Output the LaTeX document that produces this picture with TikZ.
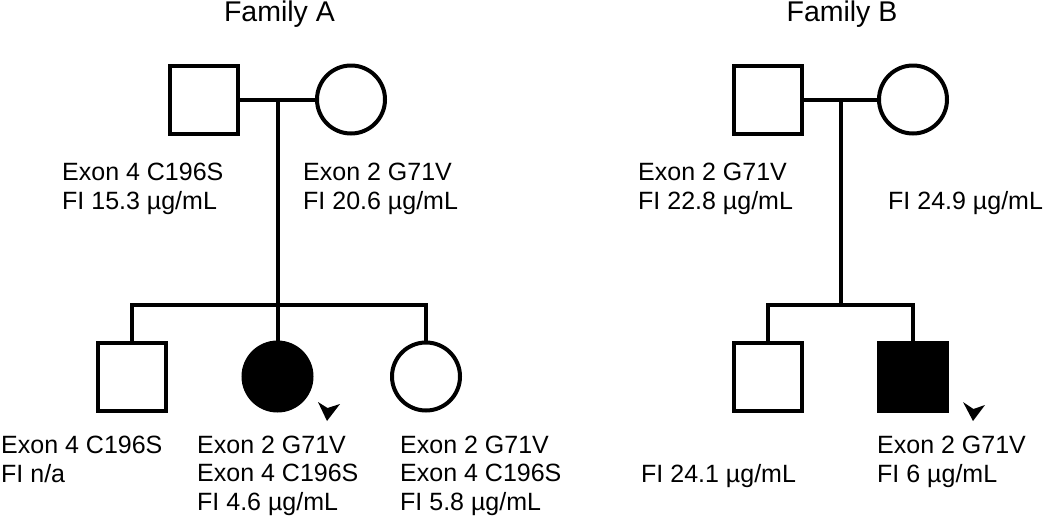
\documentclass[tikz,border=0pt]{standalone}
\usepackage{fontspec}
\setmainfont{Liberation Sans}
\begin{document}
\begin{tikzpicture}[x=1pt,y=-1pt,
  male/.style={draw, rectangle, line width=4pt, minimum size=68pt, inner sep=0pt},
  female/.style={draw, circle, line width=4pt, minimum size=68pt, inner sep=0pt},
  affected/.style={fill=black},
  conn/.style={line width=4pt},
  lbl/.style={anchor=base west, align=left, inner sep=0pt, font=\fontsize{25}{28.5}\selectfont},
  ttl/.style={anchor=base, inner sep=0pt, font=\fontsize{28.5}{32}\selectfont},
  proband/.style={fill=black, draw=none}]
\useasboundingbox (0,0) rectangle (1050,520);

% ---------- Family A ----------
\node[ttl] (tA) at (279.5,21) {Family A};
\node[male] (fA) at (203.5,99.5) {};
\node[female] (moA) at (351,99.5) {};
\node[male] (cA1) at (131.5,376.5) {};
\node[female, affected] (cA2) at (277.5,376.5) {};
\node[female] (cA3) at (426,376.5) {};
\coordinate (jA) at (277.5,99.5);
\coordinate (sA) at (277.5,305);
\draw[conn] (fA) -- (moA);
\draw[conn] (jA) -- (cA2.north);
\draw[conn] (cA1.north) |- (sA) -| (cA3.north);

% base anchor = baseline of the last line
\node[lbl] (lfA) at (62,209) {Exon 4 C196S\\FI 15.3 µg/mL};
\node[lbl] (lmA) at (303,209) {Exon 2 G71V\\FI 20.6 µg/mL};
\node[lbl] (lc1A) at (1,482) {Exon 4 C196S\\FI n/a};
\node[lbl] (lc2A) at (197,510) {Exon 2 G71V\\Exon 4 C196S\\FI 4.6 µg/mL};
\node[lbl] (lc3A) at (400,510) {Exon 2 G71V\\Exon 4 C196S\\FI 5.8 µg/mL};
\fill[proband] (318,402) -- (327.5,408) -- (340,404) -- (327,421) -- cycle;

% ---------- Family B ----------
\node[ttl] (tB) at (842,21) {Family B};
\node[male] (fB) at (767.5,99.5) {};
\node[female] (moB) at (913,99.5) {};
\node[male] (cB1) at (767.5,376.5) {};
\node[male, affected] (cB2) at (913,376.5) {};
\coordinate (jB) at (840.5,99.5);
\coordinate (sB) at (840.5,305);
\draw[conn] (fB) -- (moB);
\draw[conn] (jB) -- (sB);
\draw[conn] (cB1.north) |- (sB) -| (cB2.north);

\node[lbl] (lfB) at (638,209) {Exon 2 G71V\\FI 22.8 µg/mL};
\node[lbl] (lmB) at (888,209) {FI 24.9 µg/mL};
\node[lbl] (lc1B) at (641,482) {FI 24.1 µg/mL};
\node[lbl] (lc2B) at (877,482) {Exon 2 G71V\\FI 6 µg/mL};
\fill[proband] (963,402) -- (973.5,409) -- (985,405) -- (973,421) -- cycle;
\end{tikzpicture}
\end{document}
